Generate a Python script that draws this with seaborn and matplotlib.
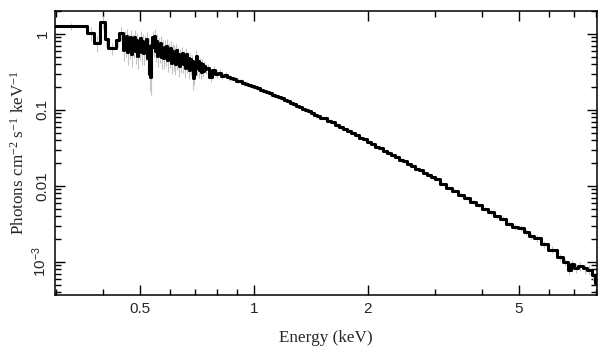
import matplotlib
matplotlib.use("Agg")
import matplotlib.pyplot as plt
from matplotlib import font_manager
from matplotlib.ticker import FixedLocator, FixedFormatter, NullFormatter
import numpy as np
import pandas as pd
import seaborn as sns


# ========== DATA ==========
# low edge of each energy bin (keV); the last bin ends at ENERGY_END
energy_lo = [
    0.298, 0.362, 0.378, 0.392, 0.404, 0.411, 0.432, 0.441,
    # noisy soft band, ~1 px bins
    0.4510, 0.4537, 0.4565, 0.4593, 0.4621, 0.4649, 0.4677, 0.4706, 0.4734, 0.4763,
    0.4792, 0.4821, 0.4851, 0.4880, 0.4910, 0.4940, 0.4970, 0.5000, 0.5031, 0.5061,
    0.5092, 0.5123, 0.5154, 0.5186, 0.5217, 0.5249, 0.5281, 0.5313, 0.5346, 0.5378,
    0.5411, 0.5444, 0.5477, 0.5510, 0.5544, 0.5578, 0.5612, 0.5646, 0.5680, 0.5715,
    0.5750, 0.5785, 0.5820, 0.5855, 0.5891, 0.5927, 0.5963, 0.5999, 0.6036, 0.6073,
    0.6110, 0.6147, 0.6184, 0.6222, 0.6260, 0.6298, 0.6336, 0.6375, 0.6414, 0.6453,
    0.6492, 0.6532, 0.6571, 0.6611, 0.6652, 0.6692, 0.6733, 0.6774, 0.6815, 0.6857,
    0.6899, 0.6941, 0.6983, 0.7026, 0.7069, 0.7112, 0.7155, 0.7199, 0.7243, 0.7287,
    0.7331, 0.7376, 0.7421,
    0.747, 0.761, 0.775, 0.789, 0.804, 0.818, 0.833, 0.849, 0.864, 0.880,
    0.897, 0.913, 0.930, 0.947, 0.964, 0.982, 1.000, 1.018, 1.037, 1.056,
    1.076, 1.095, 1.116, 1.136, 1.157, 1.178, 1.200, 1.222, 1.245, 1.267,
    1.291, 1.314, 1.339, 1.363, 1.388, 1.414, 1.440, 1.466, 1.493,
    1.521, 1.558, 1.597, 1.636, 1.676, 1.717, 1.759, 1.803, 1.847, 1.892,
    1.939, 1.987, 2.035, 2.085, 2.137, 2.189, 2.243, 2.298, 2.355, 2.413,
    2.472, 2.533, 2.595, 2.659, 2.725, 2.792, 2.861, 2.931, 3.003,
    3.096, 3.211, 3.330, 3.454, 3.583, 3.716, 3.853, 3.997, 4.145, 4.298,
    4.458, 4.623, 4.794, 4.973,
    5.158, 5.316, 5.482, 5.719, 5.967, 6.302, 6.536, 6.738, 6.862, 6.989,
    7.161, 7.382, 7.564, 7.797, 7.940,
]
ENERGY_END = 8.06

# unfolded flux, photons cm^-2 s^-1 keV^-1
flux = [
    1.27, 1.02, 0.76, 1.45, 0.86, 0.65, 0.83, 1.03,
    0.62, 0.88, 0.70, 0.95, 0.58, 0.80, 0.66, 0.90, 0.55, 0.78,
    0.68, 0.92, 0.60, 0.84, 0.52, 0.75, 0.64, 0.88, 0.58, 0.80,
    0.56, 0.74, 0.62, 0.85, 0.48, 0.70, 0.30, 0.27, 0.72, 0.90,
    0.68, 0.94, 0.60, 0.80, 0.52, 0.72, 0.58, 0.76, 0.50, 0.66,
    0.48, 0.68, 0.52, 0.70, 0.45, 0.62, 0.50, 0.66, 0.42, 0.60,
    0.44, 0.58, 0.40, 0.62, 0.45, 0.55, 0.38, 0.52, 0.42, 0.56,
    0.40, 0.50, 0.36, 0.54, 0.40, 0.48, 0.34, 0.47, 0.38, 0.44,
    0.26, 0.30, 0.42, 0.52, 0.36, 0.44, 0.34, 0.41, 0.32, 0.40,
    0.33, 0.38, 0.35,
    0.355, 0.275, 0.335, 0.300, 0.310, 0.283, 0.288, 0.268, 0.262, 0.255,
    0.243, 0.238, 0.226, 0.222, 0.210, 0.207, 0.198, 0.192, 0.184, 0.179,
    0.170, 0.166, 0.157, 0.154, 0.146, 0.142, 0.134, 0.130, 0.123, 0.120,
    0.113, 0.110, 0.104, 0.0995, 0.0955, 0.0905, 0.0870, 0.0820, 0.0790,
    0.0775, 0.0720, 0.0690, 0.0630, 0.0605, 0.0560, 0.0535, 0.0495, 0.0468, 0.0432,
    0.0410, 0.0376, 0.0358, 0.0330, 0.0314, 0.0288, 0.0274, 0.0252, 0.0240, 0.0221,
    0.0210, 0.0193, 0.0184, 0.0169, 0.0161, 0.0148, 0.0141, 0.0130, 0.0123,
    0.0107, 0.0095, 0.0087, 0.0076, 0.0070, 0.0061, 0.0056, 0.0050, 0.0045, 0.0040,
    0.0037, 0.0032, 0.0029, 0.0028,
    0.00245, 0.00220, 0.00205, 0.00172, 0.00145, 0.00115, 0.00100, 0.00078, 0.00094, 0.00082,
    0.00087, 0.00082, 0.00079, 0.00067, 0.00053,
]

# relative 1-sigma error of each bin
rel_err = [
    0.10, 0.22, 0.25, 0.20, 0.22, 0.18, 0.20, 0.20,
    0.28, 0.24, 0.30, 0.22, 0.32, 0.26, 0.30, 0.24, 0.34, 0.26,
    0.28, 0.22, 0.32, 0.24, 0.34, 0.26, 0.30, 0.24, 0.32, 0.26,
    0.30, 0.26, 0.30, 0.24, 0.34, 0.26, 0.40, 0.42, 0.26, 0.22,
    0.26, 0.22, 0.28, 0.24, 0.30, 0.24, 0.28, 0.24, 0.30, 0.26,
    0.28, 0.22, 0.28, 0.22, 0.30, 0.24, 0.28, 0.22, 0.30, 0.24,
    0.26, 0.22, 0.28, 0.20, 0.26, 0.22, 0.28, 0.22, 0.26, 0.20,
    0.24, 0.20, 0.26, 0.20, 0.24, 0.20, 0.26, 0.20, 0.24, 0.20,
    0.30, 0.28, 0.22, 0.18, 0.22, 0.18, 0.22, 0.18, 0.20, 0.18,
    0.18, 0.16, 0.16,
    0.14, 0.15, 0.12, 0.12, 0.10, 0.10, 0.09, 0.09, 0.08, 0.08,
    0.08, 0.07, 0.07, 0.07, 0.06, 0.06, 0.06, 0.06, 0.05, 0.05,
    0.05, 0.05, 0.05, 0.05, 0.05, 0.05, 0.05, 0.05, 0.05, 0.05,
    0.05, 0.05, 0.05, 0.05, 0.05, 0.05, 0.05, 0.05, 0.05,
    0.04, 0.04, 0.04, 0.04, 0.04, 0.04, 0.04, 0.04, 0.04, 0.04,
    0.04, 0.04, 0.04, 0.04, 0.04, 0.04, 0.04, 0.04, 0.04, 0.04,
    0.045, 0.045, 0.045, 0.045, 0.045, 0.045, 0.045, 0.045, 0.045,
    0.05, 0.05, 0.055, 0.06, 0.06, 0.06, 0.065, 0.07, 0.07, 0.075,
    0.08, 0.08, 0.085, 0.09,
    0.09, 0.10, 0.10, 0.11, 0.11, 0.12, 0.12, 0.14, 0.13, 0.14,
    0.14, 0.15, 0.15, 0.16, 0.18,
]

x_ticks = [0.5, 1, 2, 5]
x_tick_labels = ["0.5", "1", "2", "5"]
y_ticks = [1e-3, 0.01, 0.1, 1]
y_tick_labels = [r"$\mathsf{10^{-3}}$", "0.01", "0.1", "1"]
x_range = (0.298, 8.05)
y_range = (3.68e-4, 2.0)
# ===================================================


def pick_font(candidates):
    """Return the first family that resolves without falling back."""
    for name in candidates:
        try:
            font_manager.findfont(font_manager.FontProperties(family=name),
                                  fallback_to_default=False)
            return name
        except Exception:
            continue
    return "DejaVu Sans"


def build_frames():
    """Step table (edges) and error-bar table (bin centres)."""
    edges = energy_lo + [ENERGY_END]
    df_step = pd.DataFrame({"energy": edges, "flux": flux + [flux[-1]]})

    lo = np.array(energy_lo)
    hi = np.array(energy_lo[1:] + [ENERGY_END])
    f = np.array(flux)
    e = np.array(rel_err)
    df_err = pd.DataFrame({
        "centre": np.sqrt(lo * hi),
        "low": f * (1 - e),
        "high": f * (1 + e),
    })
    return df_step, df_err


def main():
    sns.set_theme(style="ticks")
    sans_name = pick_font(["Liberation Sans", "Arimo", "Roboto"])
    plt.rcParams["font.family"] = [sans_name, "DejaVu Sans"]
    plt.rcParams["mathtext.fontset"] = "custom"
    plt.rcParams["mathtext.rm"] = "Liberation Serif"
    plt.rcParams["mathtext.it"] = "Liberation Serif:italic"
    plt.rcParams["mathtext.sf"] = sans_name

    df_step, df_err = build_frames()

    fig = plt.figure(figsize=(6.09, 3.57), dpi=100)
    ax = fig.add_axes([0.0903, 0.174, 0.8897, 0.795])

    ax.vlines(df_err["centre"], df_err["low"], df_err["high"],
              color="#c4c4c4", lw=0.8, zorder=1)
    sns.lineplot(data=df_step, x="energy", y="flux", drawstyle="steps-post",
                 estimator=None, sort=False, color="black", lw=2.2, ax=ax, zorder=2)

    ax.set_xscale("log")
    ax.set_yscale("log")
    ax.set_xlim(*x_range)
    ax.set_ylim(*y_range)

    ax.xaxis.set_major_locator(FixedLocator(x_ticks))
    ax.xaxis.set_major_formatter(FixedFormatter(x_tick_labels))
    ax.xaxis.set_minor_locator(FixedLocator([0.3, 0.4, 0.6, 0.7, 0.8, 0.9, 3, 4, 6, 7, 8]))
    ax.xaxis.set_minor_formatter(NullFormatter())
    ax.yaxis.set_major_locator(FixedLocator(y_ticks))
    ax.yaxis.set_major_formatter(FixedFormatter(y_tick_labels))
    ax.yaxis.set_minor_formatter(NullFormatter())

    ax.tick_params(which="both", direction="in", top=True, right=True,
                   width=1.0, color="black", labelsize=11)
    ax.tick_params(which="major", length=7)
    ax.tick_params(which="minor", length=4)
    ax.tick_params(axis="x", pad=5)
    ax.tick_params(axis="y", pad=4)
    for lab in ax.get_xticklabels() + ax.get_yticklabels():
        lab.set_family([sans_name, "DejaVu Sans"])
    plt.setp(ax.get_yticklabels(), rotation=90, va="center")

    for sp in ax.spines.values():
        sp.set_linewidth(1.1)
        sp.set_color("black")

    ax.set_xlabel("Energy (keV)", family="Liberation Serif", fontsize=12.3, labelpad=10)
    ax.set_ylabel(r"Photons cm$^{-2}$ s$^{-1}$ keV$^{-1}$", family="Liberation Serif",
                  fontsize=12.3, labelpad=2)

    fig.savefig("out.png", dpi=100)
    plt.close(fig)


if __name__ == "__main__":
    main()
